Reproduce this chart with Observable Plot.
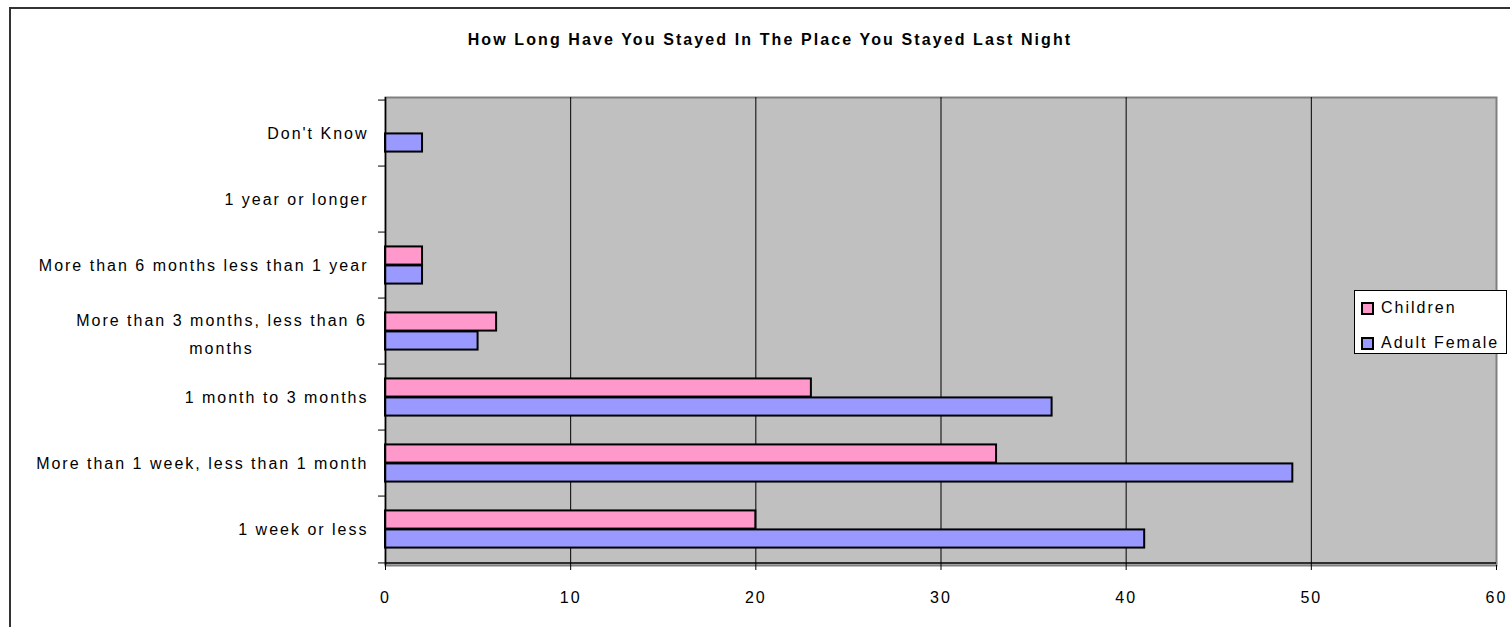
<!DOCTYPE html>
<html>
<head>
<meta charset="utf-8">
<script src="https://cdn.jsdelivr.net/npm/d3@7"></script>
<script src="https://cdn.jsdelivr.net/npm/@observablehq/plot@0.6"></script>
<style>
  html, body { margin: 0; padding: 0; background: #fff; }
  body { width: 1510px; height: 627px; overflow: hidden; position: relative;
         font-family: "Liberation Sans", Arial, sans-serif; }
  #frame { position: absolute; left: 9px; top: 7px; width: 1600px; height: 700px;
           border: 2px solid #333; box-sizing: border-box; z-index: 5; pointer-events: none; }
  #title { height: 60px; box-sizing: border-box; padding-top: 30px; padding-left: 30px;
           text-align: center; font-weight: bold; font-size: 16px; line-height: 20px;
           letter-spacing: 2.1px; color: #000; }
  #legend { position: absolute; left: 1354px; top: 290px; width: 153px; height: 64px;
            box-sizing: border-box; border: 1px solid #000; background: #fff; z-index: 4;
            font-size: 16px; letter-spacing: 2px; }
  .item { position: absolute; left: 6px; height: 20px; display: flex; align-items: center; }
  .sw { width: 13px; height: 13px; box-sizing: border-box; border: 2.5px solid #000; margin-right: 7px; }
  #chart { display: block; }
</style>
</head>
<body>
<div id="frame"></div>
<div id="title"></div>
<div id="chart"></div>
<div id="legend"></div>
<script>
const titleText = "How Long Have You Stayed In The Place You Stayed Last Night";
const categories = [
  "Don't Know",
  "1 year or longer",
  "More than 6 months less than 1 year",
  "More than 3 months, less than 6 months",
  "1 month to 3 months",
  "More than 1 week, less than 1 month",
  "1 week or less"
];
const wrappedLabel = "More than 3 months, less than 6\nmonths";
const seriesNames = ["Children", "Adult Female"];
const seriesColors = ["#FF99CC", "#9999FF"];
const children    = [0, 0, 2, 6, 23, 33, 20];
const adultFemale = [2, 0, 2, 5, 36, 49, 41];
const xTicks = [0, 10, 20, 30, 40, 50, 60];
const gridLines = [10, 20, 30, 40, 50];

document.getElementById("title").textContent = titleText;

const width = 1510, height = 567;
const marginTop = 37, marginBottom = 62, marginLeft = 385, marginRight = 14;
const bw = (height - marginTop - marginBottom) / categories.length;
const barH = 19;
const outer = (bw - 2 * barH) / 2;

const childRows = categories.map((c, i) => ({cat: c, value: children[i]})).filter(d => d.value > 0);
const adultRows = categories.map((c, i) => ({cat: c, value: adultFemale[i]})).filter(d => d.value > 0);
const longCat = categories[3];
const lastCat = categories[categories.length - 1];

const chart = Plot.plot({
  width, height, marginTop, marginBottom, marginLeft, marginRight,
  style: {background: "transparent", fontFamily: "'Liberation Sans', Arial, sans-serif",
          fontSize: "16px", letterSpacing: "2px", color: "#000"},
  x: {domain: [0, 60], label: null},
  y: {domain: categories, padding: 0, label: null},
  marks: [
    Plot.frame({fill: "#C0C0C0", stroke: "#808080", strokeWidth: 2}),
    Plot.ruleX(gridLines, {stroke: "#000", strokeWidth: 1}),
    Plot.barX(childRows, {x: "value", y: "cat", fill: seriesColors[0], stroke: "#000", strokeWidth: 2,
      insetTop: outer, insetBottom: outer + barH}),
    Plot.barX(adultRows, {x: "value", y: "cat", fill: seriesColors[1], stroke: "#000", strokeWidth: 2,
      insetTop: outer + barH, insetBottom: outer}),
    Plot.ruleX([0], {stroke: "#000", strokeWidth: 1.5}),
    Plot.ruleY([lastCat], {dy: bw / 2, stroke: "#000", strokeWidth: 1.5}),
    Plot.ruleY(categories, {x1: 0, x2: 0, insetLeft: -7, dy: -bw / 2, stroke: "#000", strokeWidth: 1}),
    Plot.ruleY([lastCat], {x1: 0, x2: 0, insetLeft: -7, dy: bw / 2, stroke: "#000", strokeWidth: 1}),
    Plot.axisX({ticks: xTicks, tickSize: 5, tickPadding: 21, stroke: "#000", fill: "#000", fontSize: 16, label: null}),
    Plot.axisY({ticks: categories.filter(c => c !== longCat), tickSize: 0, tickPadding: 17,
      fill: "#000", fontSize: 16, label: null}),
    Plot.text([longCat], {y: d => d, text: () => wrappedLabel, frameAnchor: "left", textAnchor: "middle",
      dx: -164, lineHeight: 1.75, fill: "#000", fontSize: 16})
  ]
});
document.getElementById("chart").appendChild(chart);

const legend = document.getElementById("legend");
const legendTops = [7, 42];
seriesNames.forEach((name, i) => {
  const item = document.createElement("div");
  item.className = "item";
  item.style.top = legendTops[i] + "px";
  const sw = document.createElement("div");
  sw.className = "sw";
  sw.style.background = seriesColors[i];
  const t = document.createElement("span");
  t.textContent = name;
  item.appendChild(sw);
  item.appendChild(t);
  legend.appendChild(item);
});
</script>
</body>
</html>
